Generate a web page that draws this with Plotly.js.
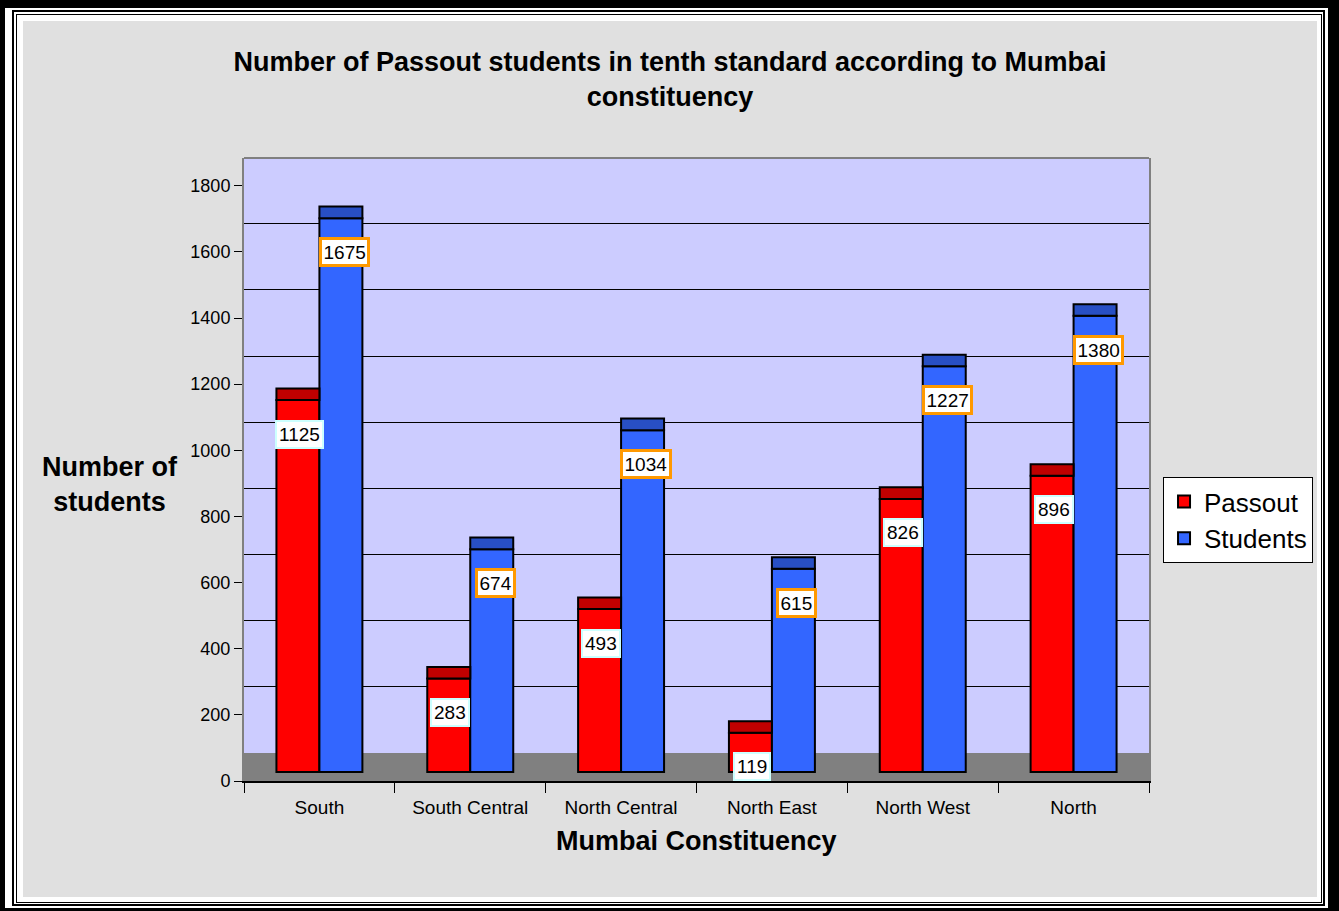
<!DOCTYPE html>
<html>
<head>
<meta charset="utf-8">
<script src="https://cdn.plot.ly/plotly-3.0.1.min.js"></script>
<style>
html,body{margin:0;padding:0;background:#000;width:1339px;height:911px;overflow:hidden}
#f1{position:absolute;left:5px;top:8px;width:1323px;height:900px;background:#fff}
#f2{position:absolute;left:12px;top:10px;width:1309px;height:892px;border:2px solid #000}
#f3{position:absolute;left:16px;top:14px;width:1304px;height:887px;border:1px solid #000}
#chart{position:absolute;left:23px;top:21px;width:1294px;height:876px;background:#e0e0e0}
</style>
</head>
<body>
<div id="f1"></div>
<div id="f2"></div>
<div id="f3"></div>
<div id="chart"></div>
<script>
// ---- data ----
const categories = ['South', 'South Central', 'North Central', 'North East', 'North West', 'North'];
const passout = [1125, 283, 493, 119, 826, 896];
const students = [1675, 674, 1034, 615, 1227, 1380];
const yTicks = [0, 200, 400, 600, 800, 1000, 1200, 1400, 1600, 1800];
const seriesNames = ['Passout', 'Students'];
const titleText = 'Number of Passout students in tenth standard according to Mumbai<br>constituency';
const xTitle = 'Mumbai Constituency';
const yTitle = 'Number of<br>students';

// ---- styling constants (3D look) ----
const BASE = 27;   // front face offset
const CAP = 35;    // top face depth
const FLOOR = 85;  // floor height (back wall shift)
const YMAX = 1884;
const FONT = 'Liberation Sans, Arial, sans-serif';

function mainBar(name, vals, color, grp) {
  return {type: 'bar', name: name, x: categories, y: vals, base: vals.map(() => BASE),
    offsetgroup: grp, marker: {color: color, line: {color: '#000', width: 2}}, hoverinfo: 'skip'};
}
function capBar(vals, color, grp) {
  return {type: 'bar', x: categories, y: vals.map(() => CAP), base: vals.map(v => v + BASE),
    offsetgroup: grp, showlegend: false, marker: {color: color, line: {color: '#000', width: 2}}, hoverinfo: 'skip'};
}

const data = [
  mainBar(seriesNames[0], passout, '#ff0000', 'p'),
  mainBar(seriesNames[1], students, '#3366ff', 's'),
  capBar(passout, '#c00000', 'p'),
  capBar(students, '#284fc4', 's')
];

const annotations = [];
categories.forEach((c, i) => {
  annotations.push({x: c, y: passout[i] + BASE, xref: 'x', yref: 'y', xshift: -20, yshift: -34,
    text: String(passout[i]), showarrow: false, yanchor: 'middle', font: {size: 19, color: '#000'},
    bgcolor: '#fff', bordercolor: '#ccffff', borderwidth: 2, borderpad: 2});
  annotations.push({x: c, y: students[i] + BASE, xref: 'x', yref: 'y', xshift: 25, yshift: -34,
    text: String(students[i]), showarrow: false, yanchor: 'middle', font: {size: 19, color: '#000'},
    bgcolor: '#fff', bordercolor: '#ff9900', borderwidth: 3, borderpad: 1.5});
});
annotations.push({text: yTitle, xref: 'paper', yref: 'paper', x: -0.148, y: 0.4767,
  xanchor: 'center', yanchor: 'middle', showarrow: false, font: {size: 27, weight: 'bold', color: '#000'}});
annotations.push({text: xTitle, xref: 'paper', yref: 'paper', x: 0.5, y: -0.0963,
  xanchor: 'center', yanchor: 'middle', showarrow: false, font: {size: 27, weight: 'bold', color: '#000'}});

const layout = {
  width: 1294, height: 876,
  margin: {l: 221, r: 168, t: 137, b: 116, autoexpand: false},
  paper_bgcolor: 'rgba(0,0,0,0)', plot_bgcolor: '#ccccff',
  font: {family: FONT, color: '#000', size: 18},
  barmode: 'group', bargap: 0.43, bargroupgap: 0,
  title: {text: titleText, font: {size: 27, weight: 'bold', color: '#000'},
    xref: 'container', x: 0.5, xanchor: 'center', yref: 'container', y: 0.943, yanchor: 'middle'},
  xaxis: {type: 'category', tickson: 'boundaries', ticks: 'outside', ticklen: 10, tickcolor: '#000',
    showline: true, linecolor: '#000', linewidth: 1.5, showgrid: false, zeroline: false,
    ticklabelstandoff: 9, tickfont: {size: 19, color: '#000'}, fixedrange: true},
  yaxis: {range: [0, YMAX], tickvals: yTicks, ticks: 'outside', ticklen: 8, tickcolor: '#000',
    showline: true, linecolor: '#808080', linewidth: 2, mirror: true, showgrid: false, zeroline: false,
    tickfont: {size: 18, color: '#000'}, fixedrange: true,
    minor: {tickvals: yTicks.slice(1, -1).map(v => v + FLOOR), showgrid: true, gridcolor: '#000',
      gridwidth: 1, ticks: ''}},
  shapes: [
    {type: 'rect', xref: 'paper', yref: 'y', x0: 0, x1: 1, y0: 0, y1: FLOOR,
      fillcolor: '#808080', line: {width: 0}, layer: 'below'},
    {type: 'line', xref: 'paper', yref: 'paper', x0: 0, x1: 1, y0: 1, y1: 1,
      line: {color: '#808080', width: 2}}
  ],
  legend: {x: 1.0155, y: 0.488, xanchor: 'left', yanchor: 'top', bgcolor: '#fff',
    bordercolor: '#000', borderwidth: 1, font: {size: 26, color: '#000'}},
  annotations: annotations,
  hovermode: false
};

Plotly.newPlot('chart', data, layout, {displayModeBar: false, staticPlot: true});
</script>
</body>
</html>
